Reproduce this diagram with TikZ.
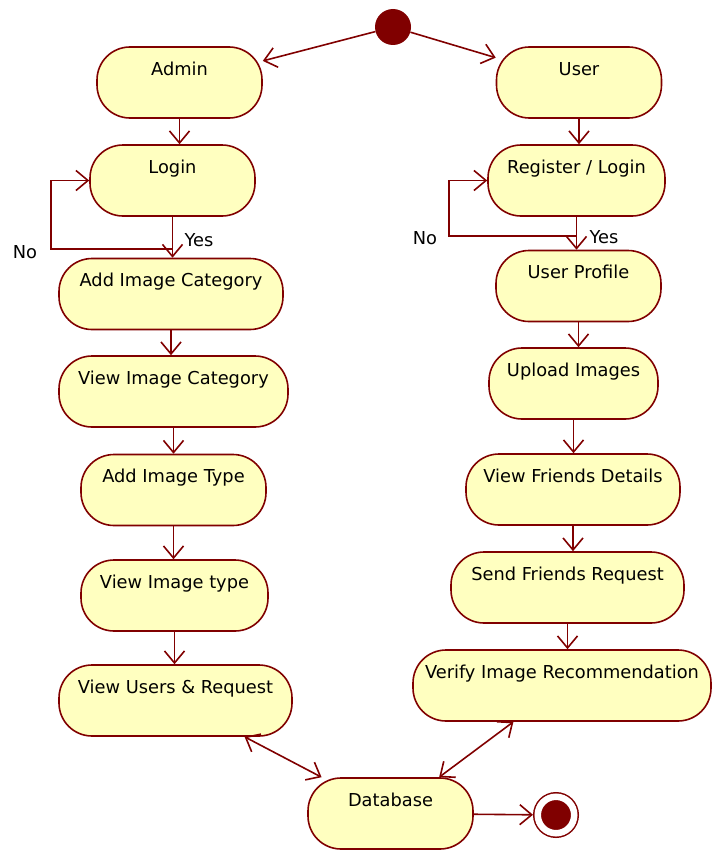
\documentclass[tikz,border=0pt]{standalone}
\usepackage{fontspec}
\setmainfont{DejaVu Sans}
\usetikzlibrary{arrows.meta}
\definecolor{actfill}{RGB}{255,255,192}
\definecolor{actline}{RGB}{128,0,0}

\begin{document}
\begin{tikzpicture}
  [x=1pt,y=-1pt,>={Straight Barb[length=12pt,width=20pt]},
   every node/.style={font=\fontsize{17.8}{20}\selectfont},
   act/.style={rectangle,rounded corners=33pt,draw=actline,fill=actfill,line width=1.6pt,
     minimum height=71pt,inner xsep=0pt,inner ysep=0pt,text height=28pt,text depth=43pt},
   flow/.style={draw=actline,line width=1.6pt,->}]
  \useasboundingbox (0,0) rectangle (712,851);

  \node[circle,fill=actline,minimum size=36pt,inner sep=0pt] (start) at (393,27) {};
  \node[circle,draw=actline,fill=actline,double=white,double distance=6.5pt,line width=1.5pt,
    minimum size=36.5pt,inner sep=0pt,outer sep=4.75pt] (stop) at (556,815) {};

  \node[act,minimum width=165pt] (a1) at (179.5,82.5)  {Admin};
  \node[act,minimum width=165pt] (a2) at (172.5,180.5) {Login};
  \node[act,minimum width=224pt] (a3) at (171,294)     {Add Image Category};
  \node[act,minimum width=229pt] (a4) at (173.5,391.5) {View Image Category};
  \node[act,minimum width=185pt] (a5) at (173.5,490)   {Add Image Type};
  \node[act,minimum width=187pt] (a6) at (174.5,595.5) {View Image type};
  \node[act,minimum width=233pt] (a7) at (175.5,700.5) {View Users \& Request};

  \node[act,minimum width=165pt] (u1) at (579,82.5)    {User};
  \node[act,minimum width=177pt] (u2) at (576.5,180.5) {Register / Login};
  \node[act,minimum width=165pt] (u3) at (578.5,286)   {User Profile};
  \node[act,minimum width=169pt] (u4) at (573.5,383.5) {Upload Images};
  \node[act,minimum width=214pt] (u5) at (573,489.5)   {View Friends Details};
  \node[act,minimum width=233pt] (u6) at (567.5,587.5) {Send Friends Request};
  \node[act,minimum width=298pt] (u7) at (562,685.5)   {Verify Image Recommendation};

  \node[act,minimum width=165pt] (db) at (390.5,813.5) {Database};

  \node (noA)  at (25,252)  {No};
  \node (yesA) at (199,240) {Yes};
  \node (noU)  at (425,238) {No};
  \node (yesU) at (604,237) {Yes};

  \draw[flow] (start) -- (a1);
  \draw[flow] (start) -- (u1);

\foreach \from/\to in
{a1/a2, a2/a3, a3/a4, a4/a5, a5/a6, a6/a7, u1/u2, u2/u3, u3/u4, u4/u5, u5/u6, u6/u7}
    \draw[flow] (\from.south) -- (\from.south |- \to.north);

  % retry loops
  \coordinate (nA) at (a2.south |- 0,249);
  \coordinate (nU) at (u2.south |- 0,236);
  \draw[flow] (nA) -| ([xshift=-38pt]a2.west) -- (a2.west);
  \draw[flow] (nU) -| ([xshift=-38pt]u2.west) -- (u2.west);

  \draw[flow,<->] (a7) -- (db);
  \draw[flow,<->] (u7) -- (db);
  \draw[flow] (db) -- (stop);
\end{tikzpicture}
\end{document}
